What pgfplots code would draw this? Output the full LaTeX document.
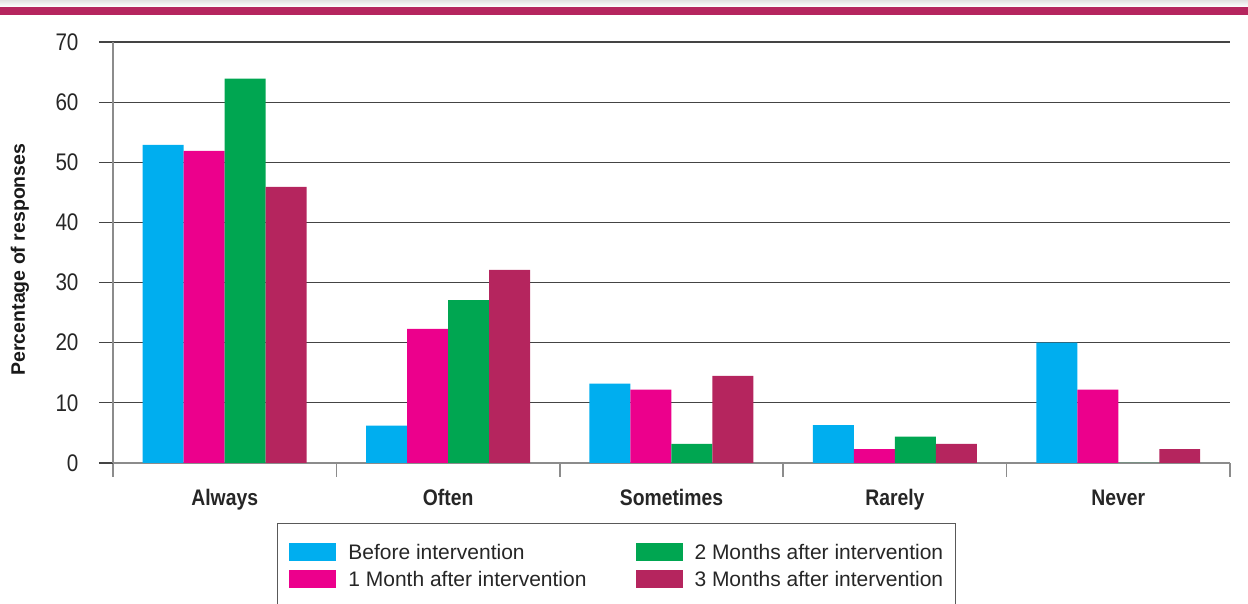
\documentclass[border=0pt]{standalone}
\usepackage{pgfplots}
\pgfplotsset{compat=1.18}
\usepackage{fontspec}
\setmainfont{Liberation Sans}
\newfontfamily\condfont[FakeStretch=0.86]{Liberation Sans}
\definecolor{cBlue}{HTML}{00AEEF}
\definecolor{cPink}{HTML}{EC008C}
\definecolor{cGreen}{HTML}{00A651}
\definecolor{cMaroon}{HTML}{B5255E}
\definecolor{gridc}{HTML}{444444}
\definecolor{axc}{HTML}{8C8C8C}
\begin{document}
\begin{tikzpicture}
\useasboundingbox (-113pt,-141pt) rectangle (1135pt,463pt);
\shade[top color=black!12, bottom color=white] (-113pt,463pt) rectangle (1135pt,456pt);
\fill[cMaroon] (-113pt,456pt) rectangle (1135pt,448pt);
\begin{axis}[
  scale only axis,
  width=1117pt, height=421pt,
  xmin=0, xmax=5, ymin=0, ymax=70,
  ybar=0pt, bar width=0.1835,
  axis x line*=bottom, axis y line*=left,
  x axis line style={draw=axc, line width=1.6pt},
  y axis line style={draw=axc, line width=1.6pt},
  xtick={0,1,2,3,4,5},
  x tick label as interval,
  xticklabels={Always,Often,Sometimes,Rarely,Never},
  ytick={0,10,...,70},
  tick align=outside,
  major tick length=14pt,
  x tick style={draw=axc, line width=1.6pt},
  y tick style={draw=gridc, line width=1.1pt},
  ymajorgrids,
  major grid style={draw=gridc, line width=1.1pt},
  /pgf/number format/assume math mode=true,
  yticklabel style={font=\condfont\fontsize{24}{24}\selectfont, text=black!85, xshift=-17pt},
  xticklabel style={font=\condfont\fontsize{22.5}{22.5}\selectfont\bfseries, text=black!85, yshift=-9pt},
  ylabel={Percentage of responses},
  ylabel style={at={(axis description cs:0,0.5)}, anchor=center, yshift=93pt, xshift=-7pt, font=\fontsize{19.5}{19.5}\selectfont\bfseries, text=black!90},
  clip=false,
  legend columns=2, transpose legend,
  legend image code/.code={\fill[#1] (0pt,-9pt) rectangle (47pt,9pt);},
  legend style={at={(0.1468,-0.1425)}, anchor=north west, draw=black!65, line width=0.8pt,
    inner xsep=12pt, inner ysep=20pt, row sep=9pt,
    nodes={inner sep=0pt, text height=16pt, text depth=1pt, font=\fontsize{21}{21}\selectfont, text=black!85},
    /tikz/every odd column/.append style={column sep=12pt},
    /tikz/every even column/.append style={column sep=49pt}},
  legend cell align=left,
]
\addplot[fill=cBlue, draw=none] coordinates {(0.5,52.9) (1.5,6.2) (2.5,13.2) (3.5,6.3) (4.5,20.0)};
\addplot[fill=cPink, draw=none] coordinates {(0.5,51.9) (1.5,22.3) (2.5,12.2) (3.5,2.3) (4.5,12.2)};
\addplot[fill=cGreen, draw=none] coordinates {(0.5,63.9) (1.5,27.1) (2.5,3.2) (3.5,4.4) (4.5,0)};
\addplot[fill=cMaroon, draw=none] coordinates {(0.5,45.9) (1.5,32.1) (2.5,14.5) (3.5,3.2) (4.5,2.3)};
\legend{Before intervention, 1 Month after intervention, 2 Months after intervention, 3 Months after intervention}
\end{axis}
\end{tikzpicture}
\end{document}
